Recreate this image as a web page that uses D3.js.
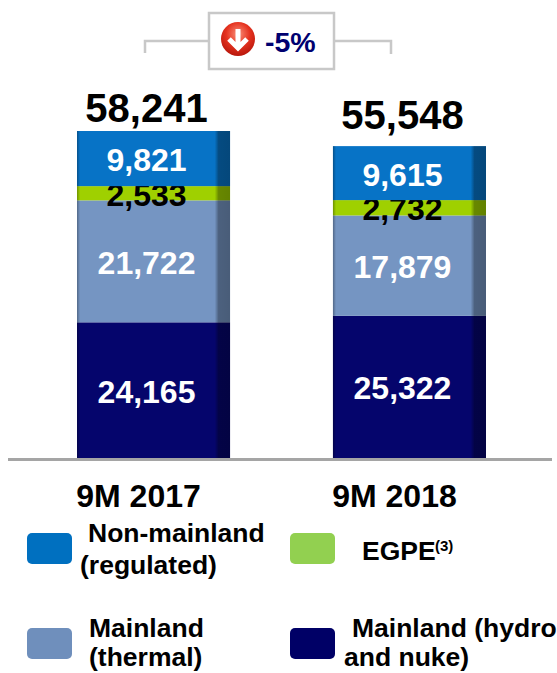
<!DOCTYPE html>
<html>
<head>
<meta charset="utf-8">
<title>Production</title>
<style>
html, body { margin: 0; padding: 0; background: #fff; }
svg { display: block; }
text { font-family: "Liberation Sans", Arial, sans-serif; font-weight: bold; }
</style>
</head>
<body>
<svg width="557" height="673"></svg>
<script src="https://d3js.org/d3.v7.min.js"></script>
<script>
var periods = ["9M 2017", "9M 2018"];
var seriesNames = ["hydro", "thermal", "egpe", "nonMainland"];
var hydro = [24165, 25322];
var thermal = [21722, 17879];
var egpe = [2533, 2732];
var nonMainland = [9821, 9615];
var totals = [58241, 55548];
var changeLabel = "-5%";

var barColors = ["#05056c", "#7595c2", "#9fd000", "#0773c6"];
var labelColors = ["#fff", "#fff", "#000", "#fff"];
var totalGap = [9, 17];

var svg = d3.select("svg");
var fmt = d3.format(",");

var rows = periods.map(function(p, i) {
  return { period: p, hydro: hydro[i], thermal: thermal[i], egpe: egpe[i], nonMainland: nonMainland[i] };
});

var x = d3.scaleBand().domain(periods).range([77, 486]).paddingInner(0.402).paddingOuter(0);
var y = d3.scaleLinear().domain([0, 58241]).range([458, 131]);

var stacked = d3.stack().keys(seriesNames)(rows);

// side shading on the bars
var defs = svg.append("defs");
var shade = defs.append("linearGradient").attr("id", "shade");
[[0, 0.3], [0.02, 0], [0.9, 0], [0.925, 0.35], [1, 0.38]].forEach(function(s) {
  shade.append("stop").attr("offset", s[0]).attr("stop-color", "#000").attr("stop-opacity", s[1]);
});

var layers = svg.selectAll("g.layer").data(stacked).enter().append("g").attr("class", "layer");

layers.selectAll("rect")
  .data(function(d, i) { return d.map(function(v) { return { v: v, i: i }; }); })
  .enter().append("rect")
    .attr("x", function(d) { return x(d.v.data.period); })
    .attr("width", x.bandwidth())
    .attr("y", function(d) { return y(d.v[1]); })
    .attr("height", function(d) { return y(d.v[0]) - y(d.v[1]); })
    .attr("fill", function(d) { return barColors[d.i]; });

svg.selectAll("rect.shade").data(periods.map(function(p, i) { return { period: p, total: totals[i] }; }))
  .enter().append("rect")
    .attr("class", "shade")
    .attr("x", function(d) { return x(d.period); })
    .attr("width", x.bandwidth())
    .attr("y", function(d) { return y(d.total); })
    .attr("height", function(d) { return y(0) - y(d.total); })
    .attr("fill", "url(#shade)");

layers.selectAll("text")
  .data(function(d, i) { return d.map(function(v) { return { v: v, i: i }; }); })
  .enter().append("text")
    .attr("x", function(d) { return x(d.v.data.period) + x.bandwidth() / 2 - 7; })
    .attr("y", function(d) { return (y(d.v[0]) + y(d.v[1])) / 2 + 1; })
    .attr("dy", "0.36em")
    .attr("text-anchor", "middle")
    .attr("font-size", 32)
    .attr("fill", function(d) { return labelColors[d.i]; })
    .text(function(d) { return fmt(d.v[1] - d.v[0]); });

// totals
svg.selectAll("text.total").data(periods).enter().append("text")
  .attr("class", "total")
  .attr("x", function(d) { return x(d) + x.bandwidth() / 2 - 7; })
  .attr("y", function(d, i) { return y(totals[i]) - totalGap[i]; })
  .attr("text-anchor", "middle")
  .attr("font-size", 40)
  .attr("fill", "#000")
  .text(function(d, i) { return fmt(totals[i]); });

// baseline and category labels
var axis = svg.append("g")
  .attr("transform", "translate(0,507)")
  .call(d3.axisBottom(x).tickSize(0));
axis.select(".domain").remove();
axis.selectAll("text")
  .attr("y", 0).attr("dy", 0)
  .attr("dx", -15)
  .attr("font-size", 32)
  .attr("font-family", "Liberation Sans")
  .attr("fill", "#000");

svg.append("rect").attr("x", 8).attr("y", 458).attr("width", 544).attr("height", 3).attr("fill", "#a5a5a5");

// change bracket
svg.append("path")
  .attr("d", "M145,53V41H391V54")
  .attr("fill", "none").attr("stroke", "#c8c8c8").attr("stroke-width", 2.5);
svg.append("rect")
  .attr("x", 209).attr("y", 13).attr("width", 125).attr("height", 56)
  .attr("fill", "#fff").attr("stroke", "#c8c8c8").attr("stroke-width", 2.5);

var red = defs.append("radialGradient").attr("id", "red").attr("cx", 0.5).attr("cy", 0.35).attr("r", 0.7);
red.append("stop").attr("offset", 0).attr("stop-color", "#f9907a");
red.append("stop").attr("offset", 0.5).attr("stop-color", "#e5321f");
red.append("stop").attr("offset", 1).attr("stop-color", "#b01208");
svg.append("circle").attr("cx", 238).attr("cy", 39).attr("r", 17).attr("fill", "url(#red)");
svg.append("path")
  .attr("d", "M238,29V47M229,39L238,48L247,39")
  .attr("fill", "none").attr("stroke", "#fff").attr("stroke-width", 5);
svg.append("text")
  .attr("x", 265).attr("y", 52).attr("font-size", 28.5).attr("fill", "#000070")
  .text(changeLabel);

// legend
var legendColors = ["#0070c0", "#92d050", "#6f8fbc", "#000066"];
var legendSwatch = [[27, 533], [290, 533], [27, 628], [290, 628]];
var legendLines = [
  [["Non-mainland", 88, 542], ["(regulated)", 80, 574]],
  [["EGPE", 362, 560]],
  [["Mainland", 89, 637], ["(thermal)", 89, 666]],
  [["Mainland (hydro", 352, 637], ["and nuke)", 344, 666]]
];

svg.selectAll("rect.swatch").data(legendColors).enter().append("rect")
  .attr("class", "swatch")
  .attr("x", function(d, i) { return legendSwatch[i][0]; })
  .attr("y", function(d, i) { return legendSwatch[i][1]; })
  .attr("width", 45).attr("height", 31).attr("rx", 5)
  .attr("fill", function(d) { return d; });

legendLines.forEach(function(lines) {
  lines.forEach(function(l) {
    svg.append("text").attr("x", l[1]).attr("y", l[2]).attr("font-size", 26.5).attr("fill", "#000").text(l[0]);
  });
});
svg.append("text").attr("x", 435).attr("y", 551).attr("font-size", 15).attr("fill", "#000").text("(3)");
</script>
</body>
</html>
